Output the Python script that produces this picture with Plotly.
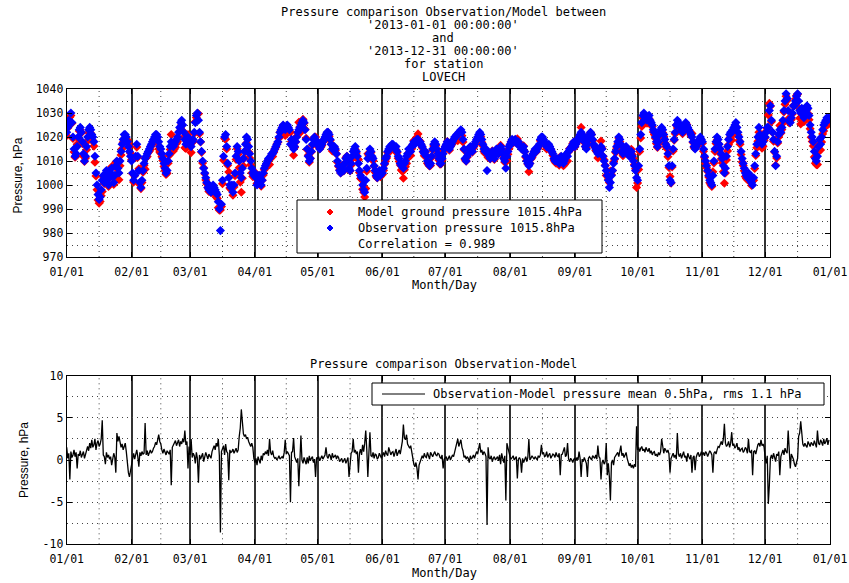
import pandas as pd
import plotly.graph_objects as go

# ---------------- data (12-hourly) ----------------
# Observed station pressure, hPa (00h, 12h for each day)
obs_01 = [1022,1024, 1027,1026, 1030,1026, 1020,1015, 1012,1013, 1016,1020, 1023,1024, 1022,1018,
          1013,1010, 1012,1016, 1020,1023, 1024,1023, 1021,1020, 1018,1012, 1005,1000, 996,994,
          995,998, 1002,1004, 1001,1004, 1006,1003, 1000,1003, 1005,1007, 1004,1001, 1004,1008,
          1010,1007, 1005,1010, 1014,1017, 1019,1021, 1021,1020, 1018,1016, 1014,1012]
obs_02 = [1010,1005, 1002,1004, 1012,1017, 1012,1006, 1001,999, 1002,1006, 1009,1011, 1012,1013,
          1014,1015, 1016,1017, 1018,1019, 1020,1021, 1021,1020, 1018,1016, 1015,1013, 1011,1009,
          1007,1005, 1006,1010, 1013,1016, 1018,1017, 1016,1017, 1018,1019, 1020,1022, 1024,1026,
          1027,1025, 1022,1019, 1017,1018, 1020,1019]
obs_03 = [1017,1016, 1018,1019, 1022,1026, 1029,1030, 1027,1022, 1018,1014, 1010,1007, 1005,1003,
          1001,999, 998,999, 997,998, 1000,999, 998,997, 996,993, 990,981, 992,1002,
          1012,1020, 1021,1016, 1009,1003, 1000,999, 1000,997, 1000,1005, 1012,1016, 1014,1010,
          1005,1003, 1007,1011, 1014,1017, 1020,1019, 1016,1013, 1010,1007, 1005,1004]
obs_04 = [1005,1003, 1000,1001, 1004,1003, 1000,1002, 1005,1007, 1008,1009, 1010,1011, 1011,1012,
          1013,1013, 1014,1015, 1016,1017, 1018,1020, 1022,1023, 1024,1025, 1024,1023, 1024,1025,
          1024,1023, 1017,1019, 1017,1015, 1016,1018, 1020,1022, 1023,1024, 1025,1026, 1027,1026,
          1023,1019, 1015,1012, 1010,1011, 1014,1017, 1019,1020, 1018,1017]
obs_05 = [1018,1017, 1015,1016, 1017,1018, 1019,1020, 1021,1022, 1022,1021, 1019,1017, 1015,1016,
          1016,1015, 1013,1010, 1008,1006, 1005,1007, 1008,1006, 1009,1011, 1012,1010, 1007,1006,
          1009,1012, 1014,1015, 1016,1014, 1012,1009, 1006,1004, 1003,1000, 998,997, 1002,1007,
          1011,1013, 1015,1014, 1012,1011, 1008,1006, 1004,1003, 1005,1006, 1004,1005]
obs_06 = [1005,1007, 1009,1011, 1012,1014, 1015,1016, 1016,1017, 1017,1016, 1015,1016, 1014,1012,
          1011,1009, 1008,1008, 1007,1009, 1010,1012, 1013,1015, 1015,1014, 1016,1017, 1018,1017,
          1018,1019, 1019,1018, 1018,1017, 1016,1014, 1013,1014, 1012,1010, 1009,1008, 1009,1012,
          1015,1017, 1018,1017, 1015,1013, 1011,1009, 1009,1011, 1013,1015]
obs_07 = [1016,1017, 1018,1016, 1015,1016, 1017,1018, 1019,1020, 1020,1021, 1021,1022, 1022,1023,
          1022,1019, 1015,1011, 1010,1012, 1013,1015, 1016,1015, 1014,1016, 1017,1018, 1019,1020,
          1021,1022, 1021,1019, 1017,1015, 1014,1015, 1006,1013, 1012,1011, 1013,1014, 1012,1011,
          1013,1015, 1014,1013, 1015,1016, 1015,1013, 1011,1010, 1007,1012, 1014,1016]
obs_08 = [1017,1018, 1019,1018, 1018,1019, 1018,1017, 1018,1017, 1016,1015, 1015,1016, 1014,1012,
          1010,1009, 1008,1009, 1011,1012, 1013,1014, 1015,1014, 1015,1016, 1017,1019, 1020,1020,
          1019,1018, 1017,1016, 1016,1017, 1016,1015, 1014,1013, 1011,1010, 1010,1011, 1010,1009,
          1010,1012, 1011,1009, 1010,1012, 1013,1012, 1014,1015, 1015,1016, 1017,1018]
obs_09 = [1016,1017, 1018,1019, 1020,1021, 1022,1021, 1020,1018, 1016,1015, 1017,1019, 1021,1022,
          1021,1019, 1017,1016, 1015,1014, 1013,1014, 1015,1016, 1015,1012, 1010,1008, 1006,1004,
          1002,999, 1001,1004, 1006,1009, 1011,1014, 1016,1018, 1020,1019, 1017,1014, 1013,1014,
          1015,1016, 1015,1013, 1012,1013, 1014,1012, 1010,1008, 1006,1003]
obs_10 = [1002,1008, 1015,1021, 1026,1029, 1030,1029, 1028,1027, 1028,1029, 1027,1026, 1025,1023,
          1022,1020, 1018,1016, 1018,1021, 1023,1024, 1023,1021, 1019,1017, 1016,1013, 1008,1002,
          1001,1008, 1015,1019, 1022,1025, 1027,1026, 1025,1024, 1023,1022, 1024,1025, 1026,1025,
          1024,1023, 1022,1021, 1020,1018, 1016,1015, 1016,1017, 1018,1019, 1020,1019]
obs_11 = [1018,1015, 1012,1010, 1008,1006, 1004,1002, 1001,1000, 1004,1010, 1015,1018, 1020,1019,
          1017,1015, 1013,1011, 1008,1005, 1007,1012, 1016,1019, 1021,1022, 1022,1023, 1024,1025,
          1026,1024, 1022,1020, 1018,1014, 1011,1009, 1007,1005, 1004,1003, 1005,1004, 1002,1001,
          1000,1003, 1008,1013, 1017,1020, 1024,1021, 1019,1017, 1018,1020]
obs_12 = [1020,1022, 1024,1024, 1031,1033, 1027,1022, 1019,1014, 1008,1012, 1018,1021, 1023,1022,
          1024,1027, 1031,1035, 1038,1036, 1031,1027, 1026,1028, 1030,1033, 1033,1035, 1037,1038,
          1035,1031, 1030,1032, 1030,1028, 1029,1031, 1033,1032, 1029,1025, 1022,1020, 1018,1014,
          1011,1010, 1012,1016, 1019,1017, 1020,1023, 1025,1026, 1027,1028, 1027,1028]

# Observation - Model difference, hPa (00h, 12h for each day)
diff_01 = [1.5,0.2, 0.8,-2.3, 1.0,0.3, 0.6,1.2, 0.4,0.9, -1.0,0.7, 0.5,1.1, 0.3,0.8,
           1.0,0.2, 0.7,1.3, 1.6,1.1, 2.0,1.4, 2.4,1.5, 1.8,2.5, 1.2,2.0, 2.3,1.6,
           1.9,2.5, 4.7,0.6, 0.4,-0.5, 0.9,0.3, 0.6,0.1, 0.4,-0.6, 0.2,0.8, 0.3,-1.5,
           3.2,2.2, 2.8,2.0, 1.5,1.9, 1.2,1.6, 2.0,1.0, -0.8,-1.5, -2.0,-1.2]
diff_02 = [-0.5,0.3, 0.8,0.1, 0.6,1.2, 0.4,-0.8, 0.9,0.5, 1.0,0.7, 0.8,4.4, 0.6,1.1,
           0.5,0.9, 1.2,0.8, 1.0,1.4, 1.6,2.1, 1.8,2.4, 3.0,2.2, 1.9,1.2, 0.8,1.3,
           1.0,0.6, 1.1,0.9, 0.7,1.2, -3.0,1.5, 1.8,2.0, 2.3,1.7, 2.0,2.4, 1.6,2.2,
           1.9,2.5, 2.1,3.5, 1.8,2.2, -1.0,1.6]
diff_03 = [0.6,2.5, 0.3,0.8, 0.5,-0.4, 0.9,0.2, -2.7,0.6, 0.1,0.4, 0.8,-0.2, 0.3,0.9,
           0.5,0.1, 0.7,0.4, 0.2,1.0, 1.3,1.7, 1.2,2.0, 1.6,2.5, 0.5,-8.6, 1.0,1.5,
           1.7,0.6, 1.9,1.0, 0.8,-2.4, 1.2,0.9, 1.0,1.3, 0.8,1.1, 1.4,0.9, 1.2,2.8,
           3.8,6.0, 4.2,3.1, 2.8,3.0, 2.5,2.7, 2.2,1.8, 1.6,2.0, 1.5,0.2]
diff_04 = [-0.3,0.2, -0.6,0.4, 0.1,-0.4, 0.5,0.0, 0.8,0.6, 1.0,0.7, 1.2,0.5, 2.5,0.9,
           0.6,1.1, 0.4,0.2, 0.3,0.0, 0.2,0.5, 0.1,0.3, 0.4,0.2, 0.9,2.4, 0.7,1.0,
           0.8,0.5, -5.0,0.9, 1.0,2.6, 0.4,0.1, -0.3,0.2, -3.1,-0.2, 2.9,0.0, -0.4,0.3,
           -0.2,-0.5, 0.3,-0.4, 0.5,-0.1, 0.2,0.4, -0.3,0.1, -2.0,0.3]
diff_05 = [0.2,0.4, -0.1,0.3, 0.5,0.1, 0.3,0.6, 1.5,0.4, 0.2,0.7, 0.5,0.0, 0.8,0.3,
           0.4,0.6, 0.1,0.5, 0.3,-0.2, 0.0,0.2, -0.3,0.1, 0.2,-0.4, 0.0,0.3, -2.0,0.1,
           0.8,1.0, 2.5,0.9, 1.2,0.7, 1.0,-1.5, 0.8,1.3, 0.6,1.8, 1.0,2.0, 3.5,1.2,
           -2.0,0.8, 3.3,0.5, 0.4,0.9, 0.2,0.7, 0.6,0.1, 0.3,0.8, 0.5,0.2]
diff_06 = [0.6,0.9, 0.4,1.1, 0.7,0.5, 1.5,0.8, 0.6,0.9, 1.0,0.4, 0.8,1.3, 0.5,0.9,
           1.2,0.7, 1.8,2.2, 4.2,2.6, 2.4,3.0, 1.9,1.6, 1.4,1.7, 0.9,0.2, -0.5,-0.8,
           -0.3,-1.0, -2.3,-0.6, -0.2,0.3, 0.5,0.2, 0.8,0.4, 0.3,0.9, 0.6,0.1, 0.9,0.5,
           0.4,0.7, 1.0,0.6, 0.5,0.8, 0.7,0.3, 0.2,0.6, -1.0,0.1]
diff_07 = [0.2,0.4, -0.1,0.3, 0.5,0.0, 0.3,0.6, 0.4,1.0, 1.4,1.8, 2.5,1.6, 2.0,2.4,
           1.5,1.1, 0.3,0.5, 0.1,0.4, 0.2,-0.3, 0.5,0.1, 0.3,0.6, 0.2,0.8, 1.0,0.7,
           1.3,2.0, 0.9,1.2, 0.6,1.0, 0.8,0.4, -7.7,1.5, 0.3,0.1, 0.5,-0.2, 0.2,0.4,
           0.0,0.3, 0.4,-0.1, 0.6,-0.5, 0.8,0.2, -0.3,0.5, -4.8,2.0, 1.2,0.9]
diff_08 = [0.4,0.1, 0.3,0.5, 0.0,0.2, 0.4,-2.2, 0.1,0.3, 0.0,-1.5, 0.2,-0.3, 0.1,0.4,
           -0.2,0.3, 2.5,0.0, 0.2,0.5, 0.3,0.1, 0.4,0.2, 0.0,0.5, 0.3,0.6, 1.8,0.7,
           0.9,0.4, 0.5,1.0, 0.3,0.6, 0.8,0.2, 0.4,0.7, 0.6,0.3, 0.9,0.5, 0.4,0.8,
           -1.8,0.6, 0.7,1.0, 1.5,0.4, 0.6,2.0, 0.1,-0.2, 0.2,0.0, -0.3,0.1]
diff_09 = [0.2,-0.1, 0.3,0.0, 1.0,0.2, -2.0,0.1, -0.2,0.3, 0.0,-0.4, -2.0,0.2, 0.4,0.1,
           0.0,0.5, 0.3,0.2, 0.6,0.1, 1.7,0.4, 0.2,-2.3, -0.3,0.0, -0.5,-0.2, 2.0,-1.8,
           -0.4,-2.0, -4.8,-0.3, 0.0,-0.6, 0.3,0.5, 0.6,0.9, 0.4,1.0, 1.7,0.5, 0.8,0.3,
           0.6,0.9, 0.2,-0.5, -0.7,-0.4, -0.9,-0.6, -1.0,-0.5, -0.8,4.0]
diff_10 = [1.2,1.5, 1.0,1.4, 1.6,1.1, 1.3,0.9, 1.5,1.2, 1.0,1.4, 0.8,1.1, 0.6,0.9,
           1.0,0.5, 0.7,0.4, 0.9,0.6, 1.0,2.5, 1.2,0.8, 1.4,1.0, 0.9,1.2, 0.7,-1.5,
           0.2,0.5, 0.8,0.3, 0.6,0.1, 3.2,0.7, 0.4,0.8, 0.2,0.6, 1.0,0.3, 0.5,-0.2,
           0.8,0.4, 0.1,0.6, -1.5,0.3, 0.5,-1.2, 0.3,0.7, 0.9,0.4, 0.6,1.0]
diff_11 = [0.6,0.9, 0.5,1.0, 0.8,0.4, 0.7,1.1, 0.9,0.6, -1.5,0.8, 1.0,0.7, 1.2,1.6,
           1.5,2.0, 2.2,1.8, 2.5,4.3, 2.0,1.6, 1.8,2.2, 1.5,2.0, 3.3,1.7, 1.9,1.4,
           1.6,2.0, 1.2,1.5, 1.0,1.3, 1.4,0.9, 1.1,1.5, 1.3,0.8, 2.5,1.0, 0.9,1.2,
           -1.8,1.0, 1.1,0.7, 1.5,1.8, 2.0,1.6, 2.4,1.7, 1.9,1.5]
diff_12 = [0.3,-0.4, 0.5,-5.2, -3.0,0.2, 0.6,0.1, 0.8,0.3, -0.2,0.7, 0.5,1.0, -1.8,0.4,
           0.9,1.2, 0.6,1.4, 1.0,0.8, 3.5,1.1, -1.0,0.7, 0.4,0.1, -0.5,-0.8, -0.3,0.2,
           2.8,3.2, 4.6,2.5, 1.9,1.6, 2.0,1.7, 1.5,2.2, 1.8,1.6, 2.1,1.9, 1.7,2.3,
           1.9,1.5, 3.5,2.0, 1.8,2.4, 2.1,1.7, 2.5,1.9, 2.2,2.6, 1.8,2.4]

tick_dates = ["2013-01-01", "2013-02-01", "2013-03-01", "2013-04-01", "2013-05-01", "2013-06-01",
              "2013-07-01", "2013-08-01", "2013-09-01", "2013-10-01", "2013-11-01", "2013-12-01",
              "2014-01-01"]
tick_labels = ["01/01", "02/01", "03/01", "04/01", "05/01", "06/01", "07/01",
               "08/01", "09/01", "10/01", "11/01", "12/01", "01/01"]
p_ticks = [970, 980, 990, 1000, 1010, 1020, 1030, 1040]
d_ticks = [-10, -5, 0, 5, 10]
d_labels = ["-10", "-5", "0", "5", "10"]

title_lines = ["Pressure comparison Observation/Model between", "'2013-01-01 00:00:00'", "and",
               "'2013-12-31 00:00:00'", "for station", "LOVECH"]
legend_top = ["Model ground pressure 1015.4hPa", "Observation pressure 1015.8hPa", "Correlation = 0.989"]
legend_bot = "Observation-Model pressure mean 0.5hPa, rms 1.1 hPa"

# ---------------- assemble series ----------------
obs_months = [obs_01, obs_02, obs_03, obs_04, obs_05, obs_06, obs_07, obs_08, obs_09, obs_10, obs_11, obs_12]
diff_months = [diff_01, diff_02, diff_03, diff_04, diff_05, diff_06, diff_07, diff_08, diff_09, diff_10, diff_11, diff_12]
t_all, obs_all, diff_all = [], [], []
for m, (o, d) in enumerate(zip(obs_months, diff_months), start=1):
    n = min(len(o), len(d))
    t = pd.date_range(f"2013-{m:02d}-01", periods=n, freq="12h")
    t_all.extend(list(t))
    obs_all.extend(o[:n])
    diff_all.extend(d[:n])
model_all = [round(o - d, 2) for o, d in zip(obs_all, diff_all)]

# ---------------- geometry helpers ----------------
W, H = 849, 583
def px(x):
    return x / W
def py(y):
    return 1 - y / H

XDOM = [px(66.7), px(830)]
TOP_DOM = [py(257), py(89)]
BOT_DOM = [py(544.3), py(375.7)]

MONO = "DejaVu Sans Mono"
SANS = "Liberation Sans"

fig = go.Figure()
fig.add_trace(go.Scatter(x=t_all, y=model_all, mode="markers", name=legend_top[0],
                         marker=dict(symbol="diamond", size=7, color="#ff0000"),
                         xaxis="x", yaxis="y", showlegend=False))
fig.add_trace(go.Scatter(x=t_all, y=obs_all, mode="markers", name=legend_top[1],
                         marker=dict(symbol="diamond", size=7, color="#0000ff"),
                         xaxis="x", yaxis="y", showlegend=False))
fig.add_trace(go.Scatter(x=t_all, y=diff_all, mode="lines", name=legend_bot,
                         line=dict(color="#000000", width=1.3),
                         xaxis="x2", yaxis="y2", showlegend=False))

DOT = "1px,4px"
xcommon = dict(type="date", range=["2013-01-01", "2014-01-01"], tickmode="array",
               tickvals=tick_dates, ticktext=tick_labels, ticks="inside", ticklen=5,
               tickcolor="#000", showline=True, linecolor="#000", linewidth=1, mirror="ticks",
               showgrid=True, gridcolor="#333", gridwidth=1.5, zeroline=False,
               tickfont=dict(family=MONO, size=11.5, color="#000"), automargin=False,
               ticklabelstandoff=4, domain=XDOM, fixedrange=True)
fig.update_layout(
    width=W, height=H, margin=dict(l=0, r=0, t=0, b=0),
    paper_bgcolor="white", plot_bgcolor="white", template="none", showlegend=False,
    xaxis=dict(xcommon, anchor="y"),
    xaxis2=dict(xcommon, anchor="y2"),
    yaxis=dict(domain=TOP_DOM, anchor="x", range=[970, 1040], tickmode="array", tickvals=p_ticks,
               ticks="inside", ticklen=5, tickcolor="#000", showline=True, linecolor="#000",
               linewidth=1, mirror="ticks", showgrid=True, gridcolor="#444", gridwidth=1,
               griddash=DOT, zeroline=False, automargin=False,
               minor=dict(dtick=5, tick0=970, showgrid=True, gridcolor="#444", griddash=DOT, ticks=""),
               tickfont=dict(family=MONO, size=11.5, color="#000"), fixedrange=True),
    yaxis2=dict(domain=BOT_DOM, anchor="x2", range=[-10, 10], tickmode="array", tickvals=d_ticks,
                ticktext=d_labels, ticks="inside", ticklen=5, tickcolor="#000", showline=True,
                linecolor="#000", linewidth=1, mirror="ticks", showgrid=True, gridcolor="#444",
                gridwidth=1, griddash=DOT, zeroline=False, automargin=False,
                minor=dict(dtick=2.5, tick0=0, showgrid=True, gridcolor="#444", griddash=DOT, ticks=""),
                tickfont=dict(family=MONO, size=11.5, color="#000"), fixedrange=True),
)

# mid-month dotted vertical grid lines
starts = pd.to_datetime(tick_dates)
shapes = []
for i in range(len(starts) - 1):
    mid = starts[i] + (starts[i + 1] - starts[i]) / 2
    for xr, yr in (("x", "y domain"), ("x2", "y2 domain")):
        shapes.append(dict(type="line", xref=xr, yref=yr, x0=mid, x1=mid, y0=0, y1=1,
                           line=dict(color="#444", width=1, dash=DOT), layer="below"))

# legend boxes
shapes.append(dict(type="rect", xref="paper", yref="paper", x0=px(297), x1=px(602), y0=py(253), y1=py(200),
                   line=dict(color="#000", width=1), fillcolor="white", layer="above"))
shapes.append(dict(type="rect", xref="paper", yref="paper", x0=px(372), x1=px(824), y0=py(405), y1=py(383),
                   line=dict(color="#000", width=1), fillcolor="white", layer="above"))
# legend markers
def diamond(cx, cy, r, color):
    path = (f"M {px(cx - r)} {py(cy)} L {px(cx)} {py(cy - r)} L {px(cx + r)} {py(cy)} "
            f"L {px(cx)} {py(cy + r)} Z")
    return dict(type="path", xref="paper", yref="paper", path=path, fillcolor=color,
                line=dict(color=color, width=1), layer="above")
shapes.append(diamond(330, 212, 3, "#ff0000"))
shapes.append(diamond(330, 228, 3, "#0000ff"))
shapes.append(dict(type="line", xref="paper", yref="paper", x0=px(382), x1=px(425), y0=py(394), y1=py(394),
                   line=dict(color="#000", width=1), layer="above"))
fig.update_layout(shapes=shapes)

ann = []
title_y = [12.5, 25.3, 38.1, 50.9, 63.7, 76.5]
for txt, yy in zip(title_lines, title_y):
    ann.append(dict(text=txt, x=px(443), y=py(yy), xref="paper", yref="paper", showarrow=False,
                    xanchor="center", yanchor="middle", font=dict(family=MONO, size=12, color="#000")))
for txt, yy in zip(legend_top, [212, 228, 244]):
    ann.append(dict(text=txt, x=px(356), y=py(yy), xref="paper", yref="paper", showarrow=False,
                    xanchor="left", yanchor="middle", font=dict(family=MONO, size=12, color="#000")))
ann.append(dict(text=legend_bot, x=px(431), y=py(394), xref="paper", yref="paper", showarrow=False,
                xanchor="left", yanchor="middle", font=dict(family=MONO, size=12, color="#000")))
ann.append(dict(text="Pressure comparison Observation-Model", x=px(443), y=py(364), xref="paper",
                yref="paper", showarrow=False, xanchor="center", yanchor="middle",
                font=dict(family=MONO, size=12, color="#000")))
for yy in (285, 573):
    ann.append(dict(text="Month/Day", x=px(445), y=py(yy), xref="paper", yref="paper", showarrow=False,
                    xanchor="center", yanchor="middle", font=dict(family=MONO, size=12, color="#000")))
for xx, yy in ((17.5, 176), (24, 460)):
    ann.append(dict(text="Pressure, hPa", x=px(xx), y=py(yy), xref="paper", yref="paper", showarrow=False,
                    textangle=-90, xanchor="center", yanchor="middle",
                    font=dict(family=SANS, size=12, color="#000")))
fig.update_layout(annotations=ann)

fig.write_html("out.html")
